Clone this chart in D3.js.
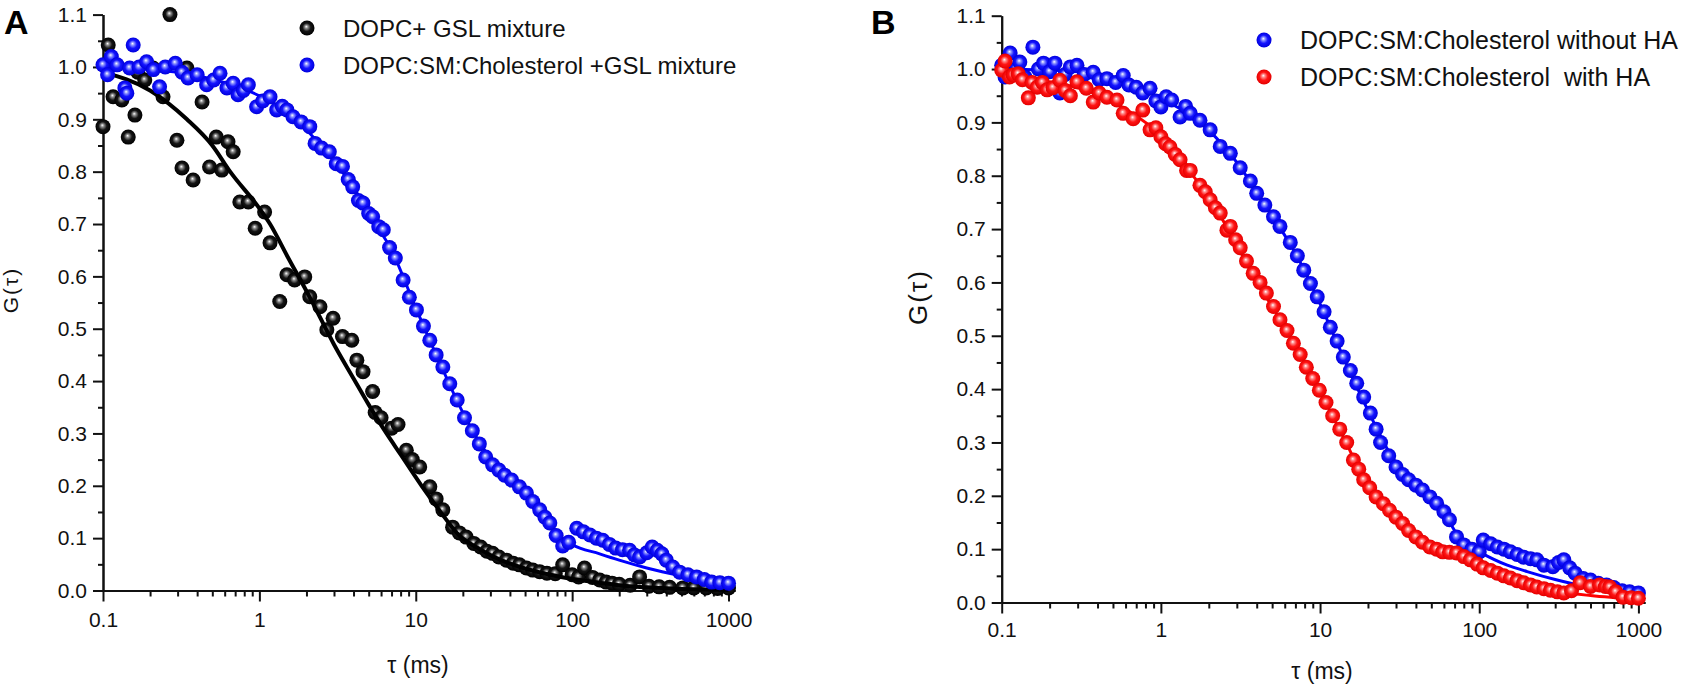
<!DOCTYPE html>
<html>
<head>
<meta charset="utf-8">
<script src="https://cdn.jsdelivr.net/npm/d3@7"></script>
<style>
  body { margin: 0; background: #fff; }
  text { font-family: "Liberation Sans", Arial, sans-serif; fill: #111; }
</style>
</head>
<body>
<svg id="fig" width="1699" height="696"></svg>
<script>
// ---- data ----
// Panel A: DOPC+ GSL mixture (black)
const tauA_black = [0.1,0.108,0.116,0.132,0.145,0.16,0.167,0.185,0.209,0.242,0.268,0.297,0.32,0.344,0.377,0.43,0.48,0.53,0.575,0.63,0.68,0.75,0.85,0.94,1.08,1.17,1.35,1.5,1.68,1.95,2.1,2.44,2.7,2.96,3.4,3.9,4.2,4.6,5.3,5.5,6.0,7.0,7.7,8.7,9.5,10.6,12.3,13.5,14.9,17.2,19,21,23.5,26,28.5,31,34,38,42,46,51,56,62,69,78,87,100,110,120,135,150,165,180,200,235,270,310,360,420,510,600,720,850,1000];
const gA_black   = [0.886,1.042,0.943,0.937,0.866,0.908,0.99,0.975,0.998,0.943,1.10,0.86,0.807,0.998,0.784,0.933,0.809,0.866,0.803,0.857,0.838,0.742,0.742,0.692,0.723,0.664,0.552,0.603,0.593,0.599,0.561,0.542,0.498,0.52,0.485,0.478,0.44,0.418,0.38,0.34,0.33,0.31,0.317,0.268,0.25,0.236,0.198,0.175,0.154,0.121,0.11,0.102,0.09,0.083,0.075,0.071,0.064,0.058,0.052,0.049,0.043,0.039,0.036,0.033,0.032,0.049,0.03,0.026,0.043,0.025,0.02,0.016,0.014,0.012,0.01,0.026,0.008,0.007,0.006,0.005,0.005,0.005,0.004,0.005];
const fitA_black_tau = [0.1,0.2,0.344,0.5,0.65,1.0,1.17,1.5,2.1,3,4,5,6.5,8,10.9,14,19,26,35,50,70,100,150,200,300,500,1000];
const fitA_black_g   = [0.99,0.955,0.9,0.85,0.8,0.73,0.7,0.64,0.56,0.47,0.405,0.355,0.3,0.26,0.2,0.155,0.105,0.078,0.058,0.042,0.031,0.022,0.015,0.01,0.006,0.003,0.001];

// Panel A: DOPC:SM:Cholesterol +GSL mixture (blue)
const tauA_blue = [0.1,0.107,0.113,0.123,0.138,0.142,0.148,0.156,0.17,0.19,0.21,0.23,0.25,0.29,0.32,0.35,0.4,0.46,0.51,0.56,0.62,0.68,0.73,0.79,0.85,0.96,1.05,1.17,1.29,1.4,1.5,1.64,1.85,2.1,2.27,2.5,2.8,3.1,3.4,3.7,3.95,4.3,4.6,5.0,5.3,5.8,6.2,6.8,7.4,8.3,9.1,10.1,11.2,12.3,13.5,14.9,16.5,18.4,20.5,23,25.5,28,31,34,37,41,46,51,56,62,67,72,79,87,95,107,118,130,143,157,173,190,210,233,250,270,300,325,350,375,400,440,487,550,625,700,780,880,1000];
const gA_blue   = [1.004,0.985,1.02,1.004,0.96,0.95,0.998,1.042,1.0,1.01,0.995,0.962,1.0,1.007,0.99,0.979,0.985,0.966,0.975,0.988,0.96,0.969,0.947,0.955,0.966,0.924,0.935,0.943,0.918,0.925,0.918,0.905,0.895,0.886,0.854,0.845,0.838,0.815,0.81,0.785,0.771,0.745,0.74,0.72,0.714,0.695,0.689,0.655,0.635,0.593,0.56,0.536,0.505,0.478,0.45,0.427,0.395,0.364,0.33,0.305,0.28,0.255,0.24,0.23,0.22,0.211,0.198,0.186,0.17,0.154,0.14,0.129,0.105,0.085,0.092,0.119,0.112,0.106,0.1,0.096,0.088,0.081,0.078,0.077,0.068,0.064,0.072,0.083,0.077,0.07,0.058,0.045,0.035,0.03,0.026,0.021,0.016,0.015,0.014];
const fitA_blue_tau = [0.1,0.3,0.6,1,1.5,2,3,4,5,7,10,14,20,28,40,50,60,70,80,100,150,200,300,500,1000];
const fitA_blue_g   = [1.0,0.99,0.97,0.945,0.915,0.88,0.82,0.77,0.72,0.65,0.54,0.44,0.34,0.265,0.215,0.19,0.16,0.135,0.11,0.088,0.07,0.058,0.043,0.028,0.012];

// Panel B: DOPC:SM:Cholesterol without HA (blue)
const tauB_blue = [0.1,0.105,0.113,0.123,0.13,0.14,0.157,0.17,0.183,0.2,0.216,0.232,0.25,0.27,0.297,0.33,0.376,0.41,0.458,0.52,0.58,0.63,0.7,0.77,0.855,0.93,1.0,1.08,1.17,1.32,1.43,1.53,1.76,2.04,2.36,2.73,3.15,3.65,4.0,4.5,5.1,5.6,6.5,7.2,7.9,8.7,9.6,10.6,11.6,12.8,14,15.5,17,18.8,20.7,22.5,24,27,30,33,36,40,44,49,54,60,65,72,80,90,100,106,118,130,143,157,173,190,210,230,255,290,315,340,370,400,450,500,560,630,700,790,880,1000];
const gB_blue   = [1.007,0.985,1.03,1.0,1.013,0.985,1.041,1.0,1.011,0.995,1.011,0.955,0.99,1.004,1.007,0.99,0.994,0.98,0.982,0.975,0.988,0.97,0.966,0.955,0.964,0.94,0.929,0.948,0.942,0.91,0.93,0.917,0.904,0.886,0.855,0.842,0.815,0.79,0.767,0.745,0.723,0.705,0.675,0.65,0.623,0.598,0.573,0.545,0.516,0.49,0.46,0.435,0.411,0.385,0.355,0.325,0.3,0.275,0.254,0.24,0.23,0.22,0.211,0.198,0.186,0.17,0.155,0.123,0.108,0.1,0.095,0.117,0.11,0.104,0.1,0.095,0.09,0.085,0.082,0.08,0.07,0.067,0.075,0.08,0.065,0.055,0.045,0.042,0.036,0.033,0.028,0.022,0.02,0.018];
const fitB_blue_tau = [0.1,0.3,0.6,1,1.5,2,3,4,5,7,10,14,20,28,40,50,60,70,80,100,150,200,300,500,700,1000];
const fitB_blue_g   = [1.0,0.995,0.975,0.945,0.915,0.885,0.825,0.77,0.725,0.655,0.56,0.46,0.36,0.275,0.22,0.195,0.17,0.135,0.112,0.095,0.07,0.058,0.043,0.028,0.02,0.013];

// Panel B: DOPC:SM:Cholesterol with HA (red)
const tauB_red = [0.1,0.105,0.112,0.118,0.127,0.135,0.147,0.155,0.167,0.18,0.193,0.21,0.232,0.25,0.27,0.297,0.34,0.376,0.41,0.458,0.53,0.58,0.67,0.77,0.855,0.93,1.0,1.07,1.14,1.23,1.32,1.45,1.53,1.76,1.9,2.04,2.2,2.36,2.6,2.73,2.95,3.15,3.45,3.8,4.2,4.6,5.1,5.6,6.2,6.8,7.5,8.2,9.0,9.9,10.9,12,13.3,14.7,16.2,17.5,18.8,20.5,22.5,25,27.3,30,33,36,40,44,49,54,59,65,72,80,88,97,106,118,130,143,157,173,190,210,230,255,280,310,340,380,430,500,570,620,660,720,800,900,1000];
const gB_red   = [0.998,1.015,0.985,0.989,0.991,0.98,0.946,0.975,0.966,0.975,0.961,0.965,0.979,0.96,0.95,0.976,0.964,0.938,0.955,0.947,0.942,0.917,0.907,0.923,0.886,0.89,0.873,0.86,0.854,0.84,0.83,0.81,0.81,0.782,0.77,0.755,0.74,0.73,0.698,0.705,0.68,0.665,0.64,0.617,0.6,0.58,0.555,0.53,0.51,0.486,0.465,0.441,0.42,0.398,0.375,0.35,0.325,0.3,0.267,0.25,0.23,0.215,0.198,0.185,0.173,0.16,0.148,0.135,0.123,0.113,0.104,0.1,0.095,0.094,0.093,0.086,0.08,0.072,0.065,0.06,0.055,0.05,0.046,0.041,0.037,0.033,0.029,0.026,0.023,0.02,0.018,0.022,0.037,0.03,0.033,0.03,0.029,0.02,0.01,0.009,0.008];
const fitB_red_tau = [0.1,0.3,0.6,1,1.5,2,3,4,5,7,10,14,20,28,40,60,80,100,150,200,300,500,1000];
const fitB_red_g   = [0.985,0.965,0.925,0.875,0.81,0.76,0.67,0.6,0.555,0.48,0.395,0.31,0.22,0.17,0.123,0.095,0.08,0.068,0.047,0.035,0.022,0.013,0.006];

const yTicks = [0,0.1,0.2,0.3,0.4,0.5,0.6,0.7,0.8,0.9,1.0,1.1];
const xTicks = [0.1,1,10,100,1000];
const xTickLabels = ["0.1","1","10","100","1000"];

const legendA = ["DOPC+ GSL mixture", "DOPC:SM:Cholesterol +GSL mixture"];
const legendB = ["DOPC:SM:Cholesterol without HA", "DOPC:SM:Cholesterol  with HA"];

const svg = d3.select("#fig");
const defs = svg.append("defs");

// shaded "ball" markers like the original plot
function sphere(id, hi, mid, edge){
  let g = defs.append("radialGradient").attr("id", id)
              .attr("cx", "50%").attr("cy", "50%").attr("r", "50%")
              .attr("fx", "45%").attr("fy", "40%");
  g.append("stop").attr("offset", "0%").attr("stop-color", "#ffffff");
  g.append("stop").attr("offset", "22%").attr("stop-color", hi);
  g.append("stop").attr("offset", "55%").attr("stop-color", mid);
  g.append("stop").attr("offset", "100%").attr("stop-color", edge);
}
sphere("ball_black", "#8a8a8a", "#151515", "#000000");
sphere("ball_blue", "#8c94ff", "#1414ff", "#0000dc");
sphere("ball_red", "#ff8c8c", "#ff1414", "#e40000");

function minorLog(){
  let out = [];
  for (let d = 0.1; d < 1000; d *= 10)
    for (let k = 2; k <= 9; k++) out.push(+(d*k).toPrecision(3));
  return out;
}

function draw_panel(p){
  let g = svg.append("g");
  let x = d3.scaleLog().domain([0.1, 1100]).range([p.left, p.right]);
  let y = d3.scaleLinear().domain([0, 1.1]).range([p.bottom, p.top]);

  // axes
  let yAxis = d3.axisLeft(y).tickValues(yTicks).tickFormat(d3.format(".1f"))
                .tickSize(10).tickSizeOuter(0).tickPadding(6);
  let yMinor = d3.axisLeft(y).tickValues(yTicks.slice(0, -1).map(v => v + 0.05))
                 .tickFormat("").tickSize(5).tickSizeOuter(0);
  let xAxis = d3.axisBottom(x).tickValues(xTicks).tickFormat((d, i) => xTickLabels[i])
                .tickSize(11).tickSizeOuter(0).tickPadding(p.xpad);
  let xMinor = d3.axisBottom(x).tickValues(minorLog()).tickFormat("")
                 .tickSize(6).tickSizeOuter(0);

  [yMinor, yAxis].forEach(a => {
    let ag = g.append("g").attr("transform", `translate(${p.left},0)`).call(a);
    ag.selectAll("path,line").attr("stroke", "#111").attr("stroke-width", 2);
  });
  [xMinor, xAxis].forEach(a => {
    let ag = g.append("g").attr("transform", `translate(0,${p.bottom})`).call(a);
    ag.selectAll("path,line").attr("stroke", "#111").attr("stroke-width", 2);
  });
  g.selectAll(".tick text").attr("font-size", 21).style("font-family", '"Liberation Sans", Arial, sans-serif');

  let line = d3.line().x(d => x(d[0])).y(d => y(d[1])).curve(d3.curveMonotoneX);

  p.series.forEach(s => {
    let pts = s.tau.map((t, i) => [t, s.g[i]]);
    let fit = s.fitTau.map((t, i) => [t, s.fitG[i]]);
    let fitPath = g.append("path").datum(fit).attr("d", line)
                   .attr("fill", "none").attr("stroke", s.color)
                   .attr("stroke-width", s.lineW);
    g.append("g").selectAll("circle").data(pts).join("circle")
      .attr("cx", d => x(d[0])).attr("cy", d => y(d[1]))
      .attr("r", s.r).attr("fill", `url(#${s.ball})`);
    if (s.lineOnTop) fitPath.raise();
  });

  // legend
  p.legend.forEach((txt, i) => {
    let s = p.series[i];
    g.append("circle").attr("cx", p.legX).attr("cy", p.legY + i*p.legDy)
     .attr("r", s.r).attr("fill", `url(#${s.ball})`);
    g.append("text").attr("x", p.legX + p.legGap).attr("y", p.legY + i*p.legDy + p.legFont*0.36)
     .attr("font-size", p.legFont).style("white-space", "pre").text(txt);
  });

  // axis titles
  g.append("text").attr("x", p.xTitleX).attr("y", p.xTitleY).attr("text-anchor", "middle")
   .attr("font-size", 23).text("\u03c4 (ms)");
  g.append("text").attr("transform", `translate(${p.yTitleX},${p.yTitleY}) rotate(-90)`)
   .attr("text-anchor", "middle").attr("font-size", p.yTitleFont)
   .attr("letter-spacing", 2).text("G(\u03c4)");

  // panel letter
  g.append("text").attr("x", p.letterX).attr("y", 34).attr("font-size", 34)
   .attr("font-weight", "bold").style("fill", "#000").text(p.letter);
}

draw_panel({
  left: 103, right: 735, top: 14.6, bottom: 590.5, xpad: 11,
  letter: "A", letterX: 4,
  xTitleX: 418, xTitleY: 673, yTitleX: 18, yTitleY: 290, yTitleFont: 21,
  legend: legendA, legX: 307, legY: 28, legDy: 37, legGap: 36, legFont: 24,
  series: [
    {tau: tauA_black, g: gA_black, fitTau: fitA_black_tau, fitG: fitA_black_g,
     color: "#000", lineW: 4, r: 7.5, ball: "ball_black", lineOnTop: true},
    {tau: tauA_blue, g: gA_blue, fitTau: fitA_blue_tau, fitG: fitA_blue_g,
     color: "#0000ff", lineW: 3, r: 7.5, ball: "ball_blue", lineOnTop: false}
  ]
});

draw_panel({
  left: 1001.7, right: 1645, top: 15.7, bottom: 602.5, xpad: 9,
  letter: "B", letterX: 871,
  xTitleX: 1322, xTitleY: 679, yTitleX: 927, yTitleY: 297, yTitleFont: 26,
  legend: legendB, legX: 1264, legY: 40, legDy: 37, legGap: 36, legFont: 25,
  series: [
    {tau: tauB_blue, g: gB_blue, fitTau: fitB_blue_tau, fitG: fitB_blue_g,
     color: "#0000ff", lineW: 3, r: 7.5, ball: "ball_blue", lineOnTop: false},
    {tau: tauB_red, g: gB_red, fitTau: fitB_red_tau, fitG: fitB_red_g,
     color: "#ff0000", lineW: 3, r: 7.5, ball: "ball_red", lineOnTop: false}
  ]
});
</script>
</body>
</html>
